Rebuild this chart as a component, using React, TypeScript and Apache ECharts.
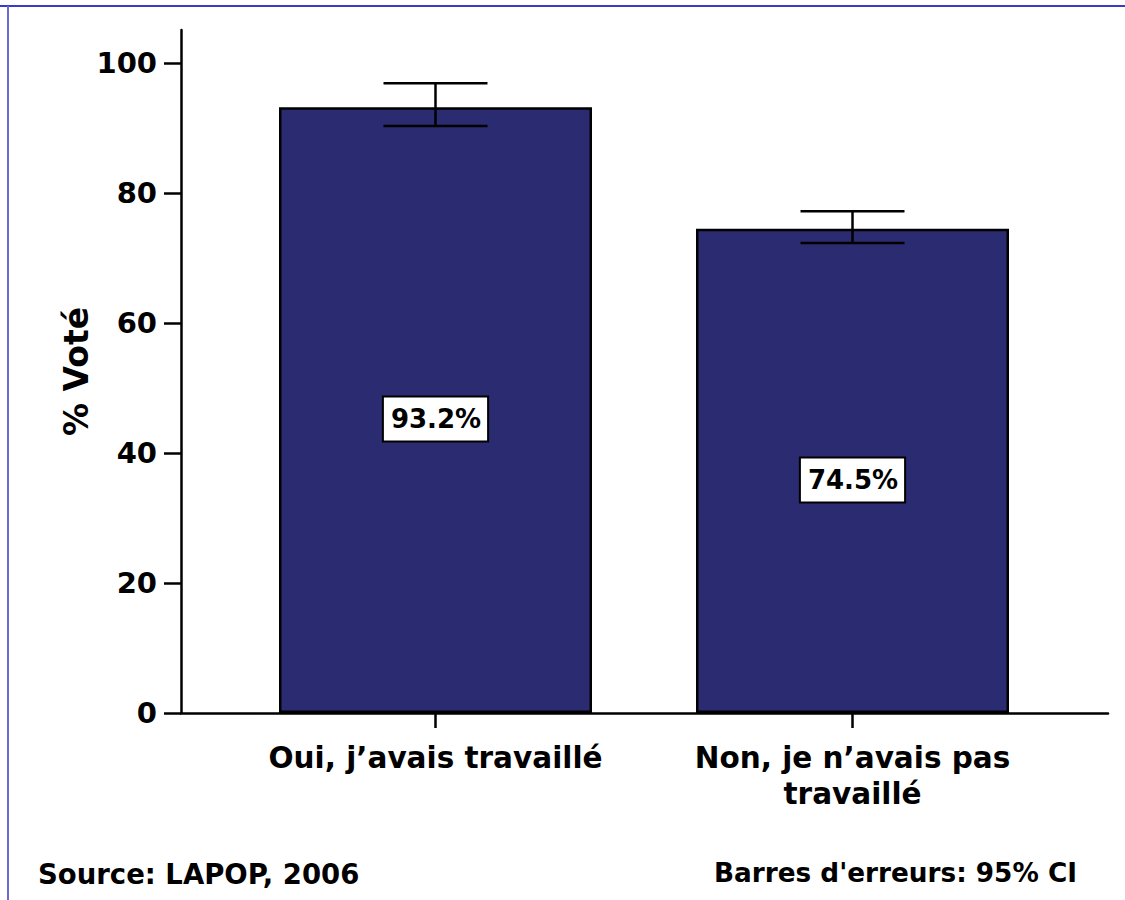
import React, { useEffect, useRef } from "react";
import * as echarts from "echarts";

const categories = ["Oui, j’avais travaillé", "Non, je n’avais pas\ntravaillé"];
const values = [93.2, 74.5];
const ciLow = [90.3, 72.3];
const ciHigh = [96.9, 77.2];
const yTicks = [0, 20, 40, 60, 80, 100];
const yTitle = "% Voté";
const sourceText = "Source: LAPOP, 2006";
const errorText = "Barres d'erreurs: 95% CI";

const FONT = "DejaVu Sans";

export default function App() {
  const ref = useRef<HTMLDivElement>(null);
  useEffect(() => {
    document.body.style.margin = "0";
    const chart = echarts.init(ref.current!, null, { renderer: "svg" });
    const barData = values.map((v, i) => [i, v]);
    const errData = values.map((_, i) => [i, ciLow[i], ciHigh[i]]);
    chart.setOption({
      animation: false,
      backgroundColor: "#ffffff",
      grid: { left: 181, right: 17, top: 30, bottom: 187, containLabel: false },
      xAxis: {
        type: "value",
        min: -0.6103,
        max: 1.6127,
        splitLine: { show: false },
        axisLine: { show: true, onZero: false, lineStyle: { color: "#000", width: 2.5 } },
        axisTick: { show: true, customValues: [0, 1], length: 15, lineStyle: { color: "#000", width: 2.5 } },
        axisLabel: {
          show: true,
          customValues: [0, 1],
          formatter: (v: number) => categories[Math.round(v)],
          fontFamily: FONT,
          fontWeight: "bold",
          fontSize: 29.5,
          color: "#000",
          margin: 27,
          lineHeight: 36,
        },
      },
      yAxis: {
        type: "value",
        min: 0,
        max: 105.08,
        splitLine: { show: false },
        axisLine: { show: true, onZero: false, lineStyle: { color: "#000", width: 2.5 } },
        axisTick: { show: true, customValues: yTicks, length: 17, lineStyle: { color: "#000", width: 2.5 } },
        axisLabel: {
          show: true,
          customValues: yTicks,
          fontFamily: FONT,
          fontWeight: "bold",
          fontSize: 29,
          color: "#000",
          margin: 24,
        },
        name: yTitle,
        nameLocation: "middle",
        nameGap: 88,
        nameMoveOverlap: false,
        nameRotate: 90,
        nameTextStyle: { fontFamily: FONT, fontWeight: "bold", fontSize: 33, color: "#000" },
      },
      series: [
        {
          type: "bar",
          data: barData,
          barWidth: 313,
          itemStyle: { color: "#2b2b72", borderColor: "#000", borderWidth: 2.5 },
          label: {
            show: true,
            position: "inside",
            offset: [0, 9],
            formatter: (p: any) => p.value[1].toFixed(1) + "%",
            fontFamily: FONT,
            fontWeight: "bold",
            fontSize: 26,
            color: "#000",
            backgroundColor: "#fff",
            borderColor: "#000",
            borderWidth: 2,
            padding: [9, 6, 8, 7],
          },
          z: 2,
        },
        {
          type: "custom",
          data: errData,
          z: 5,
          renderItem: (params: any, api: any) => {
            const x = api.value(0);
            const lo = api.coord([x, api.value(1)]);
            const hi = api.coord([x, api.value(2)]);
            const half = 52;
            const style = { stroke: "#000", lineWidth: 2.5 };
            return {
              type: "group",
              children: [
                { type: "line", shape: { x1: hi[0], y1: hi[1], x2: lo[0], y2: lo[1] }, style },
                { type: "line", shape: { x1: hi[0] - half, y1: hi[1], x2: hi[0] + half, y2: hi[1] }, style },
                { type: "line", shape: { x1: lo[0] - half, y1: lo[1], x2: lo[0] + half, y2: lo[1] }, style },
              ],
            };
          },
        },
      ],
      graphic: [
        { type: "line", shape: { x1: 0, y1: 6, x2: 1125, y2: 6 }, style: { stroke: "#3a3ac8", lineWidth: 2 } },
        { type: "line", shape: { x1: 8, y1: 6, x2: 8, y2: 900 }, style: { stroke: "#6a6ad0", lineWidth: 2 } },
        {
          type: "text",
          left: 38,
          top: 860,
          style: { text: sourceText, fontFamily: FONT, fontWeight: "bold", fontSize: 27.5, fill: "#000" },
        },
        {
          type: "text",
          right: 48,
          top: 860,
          style: { text: errorText, fontFamily: FONT, fontWeight: "bold", fontSize: 26.3, fill: "#000" },
        },
      ],
    });
    return () => chart.dispose();
  }, []);
  return <div ref={ref} style={{ width: 1125, height: 900 }} />;
}
